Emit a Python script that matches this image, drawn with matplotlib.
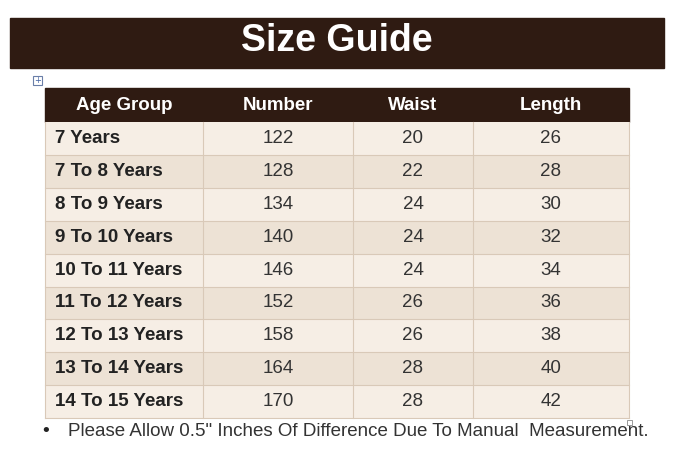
import matplotlib.pyplot as plt
from matplotlib.patches import Rectangle

headers = ["Age Group", "Number", "Waist", "Length"]
ages = ["7 Years", "7 To 8 Years", "8 To 9 Years", "9 To 10 Years", "10 To 11 Years",
        "11 To 12 Years", "12 To 13 Years", "13 To 14 Years", "14 To 15 Years"]
numbers = [122, 128, 134, 140, 146, 152, 158, 164, 170]
waist = [20, 22, 24, 24, 24, 26, 26, 28, 28]
length = [26, 28, 30, 32, 34, 36, 38, 40, 42]

W, H = 685, 468
fig = plt.figure(figsize=(W / 100, H / 100), dpi=100)
ax = fig.add_axes([0, 0, 1, 1])
ax.set_xlim(0, W)
ax.set_ylim(H, 0)
ax.axis("off")

dark = "#2f1b12"
font = "Liberation Sans"

# title bar
ax.add_patch(Rectangle((10, 18), 654, 50, color=dark))
ax.text(337, 41, "Size Guide", color="white", fontsize=27, fontweight="bold",
        ha="center", va="center", family=font)

# table handle icon
ax.add_patch(Rectangle((33, 76), 9, 9, fill=False, ec="#6a7fa8", lw=0.8))
ax.text(37.5, 80.5, "+", fontsize=6, color="#4060a0", ha="center", va="center")

cols = [45, 203, 353, 473, 629]
top, hh, rh = 88, 34, 32.9
ax.add_patch(Rectangle((cols[0], top), cols[-1] - cols[0], hh, color=dark))
for i, h in enumerate(headers):
    ax.text((cols[i] + cols[i + 1]) / 2, top + hh / 2 + 1, h, color="white",
            fontsize=13.5, fontweight="bold", ha="center", va="center", family=font)

for r in range(len(ages)):
    y = top + hh + r * rh
    fc = "#f6eee5" if r % 2 == 0 else "#ede2d5"
    ax.add_patch(Rectangle((cols[0], y), cols[-1] - cols[0], rh, fc=fc, ec="none"))
    ax.plot([cols[0], cols[-1]], [y + rh, y + rh], color="#d9c9b8", lw=0.8)
    vals = [ages[r], numbers[r], waist[r], length[r]]
    for c, v in enumerate(vals):
        if c == 0:
            ax.text(cols[0] + 10, y + rh / 2, v, fontsize=13.5, fontweight="bold",
                    color="#222222", ha="left", va="center", family=font)
        else:
            ax.text((cols[c] + cols[c + 1]) / 2, y + rh / 2, str(v), fontsize=13.5,
                    color="#333333", ha="center", va="center", family=font)
bottom = top + hh + len(ages) * rh
for x in cols:
    ax.plot([x, x], [top + hh, bottom], color="#d9c9b8", lw=0.8)

ax.text(46, 431, "\u2022", fontsize=13, color="#222222", ha="center", va="center")
ax.text(68, 431, 'Please Allow 0.5" Inches Of Difference Due To Manual  Measurement.',
        fontsize=13.5, color="#333333", ha="left", va="center", family=font)
ax.add_patch(Rectangle((627, 420), 5, 5, fill=False, ec="#888888", lw=0.6))

fig.savefig("out.png", dpi=100)
